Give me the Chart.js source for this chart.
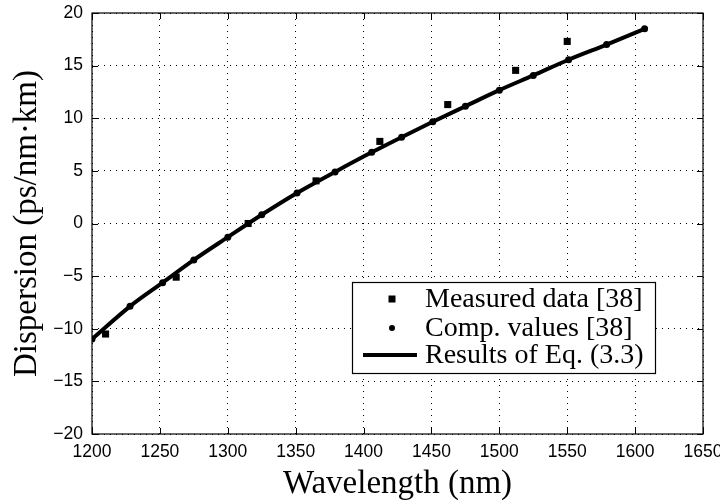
<!DOCTYPE html>
<html>
<head>
<meta charset="utf-8">
<script src="https://cdn.jsdelivr.net/npm/chart.js@4/dist/chart.umd.min.js"></script>
<style>
    html, body { margin: 0; padding: 0; background: #fff; }
    #wrap { width: 720px; height: 501px; position: relative; }
</style>
</head>
<body>
<div id="wrap"><canvas id="dispersion-chart" width="720" height="501"></canvas></div>
<script>
// measured points (squares)
const measuredWavelength = [1210, 1262, 1315, 1365, 1412, 1462, 1512, 1550];
const measuredDispersion = [-10.5, -5.1, 0.0, 4.05, 7.8, 11.3, 14.55, 17.3];

// computed values (dots)
const compWavelength = [1200, 1228, 1252, 1275, 1300, 1325, 1351, 1379, 1406, 1428, 1451, 1475, 1500, 1525, 1551, 1579, 1607];
const compDispersion = [-10.98, -7.87, -5.62, -3.46, -1.3, 0.83, 2.9, 4.9, 6.76, 8.2, 9.66, 11.14, 12.67, 14.07, 15.56, 17.0, 18.5];

// curve of Eq. (3.3)
const eqWavelength = [1200, 1228, 1252, 1275, 1300, 1325, 1351, 1379, 1406, 1428, 1451, 1475, 1500, 1525, 1551, 1579, 1607];
const eqDispersion = [-10.98, -7.87, -5.62, -3.46, -1.3, 0.83, 2.9, 4.9, 6.76, 8.2, 9.66, 11.14, 12.67, 14.07, 15.56, 17.0, 18.5];

const xTicks = [1200, 1250, 1300, 1350, 1400, 1450, 1500, 1550, 1600, 1650];
const yTicks = [-20, -15, -10, -5, 0, 5, 10, 15, 20];

const legendLabels = ["Measured data [38]", "Comp. values [38]", "Results of Eq. (3.3)"];

const SANS = "'Liberation Sans', Arial, sans-serif";
const SERIF = "'Liberation Serif', 'Times New Roman', serif";

function toPoints(xs, ys) {
    return xs.map((x, i) => ({ x: x, y: ys[i] }));
}

function minusSign(v) {
    return String(v).replace("-", "\u2212");
}

// border box, inward tick marks and the legend box inside the plot
const framePlugin = {
    id: "frame",
    afterDraw(chart) {
        const ctx = chart.ctx;
        const a = chart.chartArea;
        const xs = chart.scales.x;
        const ys = chart.scales.y;
        ctx.save();
        ctx.strokeStyle = "#000";
        ctx.lineWidth = 1.2;
        ctx.setLineDash([]);
        ctx.strokeRect(a.left, a.top, a.right - a.left, a.bottom - a.top);

        ctx.beginPath();
        xTicks.forEach(t => {
            const px = Math.round(xs.getPixelForValue(t)) + 0.5;
            ctx.moveTo(px, a.bottom); ctx.lineTo(px, a.bottom - 6);
            ctx.moveTo(px, a.top); ctx.lineTo(px, a.top + 6);
        });
        yTicks.forEach(t => {
            const py = Math.round(ys.getPixelForValue(t)) + 0.5;
            ctx.moveTo(a.left, py); ctx.lineTo(a.left + 6, py);
            ctx.moveTo(a.right, py); ctx.lineTo(a.right - 6, py);
        });
        ctx.lineWidth = 1;
        ctx.stroke();

        // legend
        const boxW = 303, boxH = 91;
        const bx = a.right - 48 - boxW;
        const by = a.bottom - 61 - boxH;
        ctx.fillStyle = "#fff";
        ctx.fillRect(bx, by, boxW, boxH);
        ctx.strokeStyle = "#000";
        ctx.lineWidth = 1.2;
        ctx.strokeRect(bx + 0.5, by + 0.5, boxW, boxH);

        const rows = [by + 17, by + 46, by + 73];
        const markX = bx + 40;
        ctx.fillStyle = "#000";
        ctx.fillRect(markX - 3.5, rows[0] - 3.5, 7, 7);
        ctx.beginPath();
        ctx.arc(markX, rows[1], 3, 0, Math.PI * 2);
        ctx.fill();
        ctx.beginPath();
        ctx.lineWidth = 4;
        ctx.moveTo(bx + 11, rows[2]);
        ctx.lineTo(bx + 65, rows[2]);
        ctx.stroke();

        ctx.font = "28px " + SERIF;
        ctx.textBaseline = "middle";
        ctx.textAlign = "left";
        legendLabels.forEach((label, i) => {
            ctx.fillText(label, bx + 73, rows[i] + 1);
        });
        ctx.restore();
    }
};

const ctx = document.getElementById("dispersion-chart").getContext("2d");

new Chart(ctx, {
    type: "scatter",
    data: {
        datasets: [
            {
                label: legendLabels[2],
                data: toPoints(eqWavelength, eqDispersion),
                showLine: true,
                borderColor: "#000",
                borderWidth: 4,
                pointRadius: 0,
                tension: 0.4,
                cubicInterpolationMode: "monotone",
                order: 3
            },
            {
                label: legendLabels[1],
                data: toPoints(compWavelength, compDispersion),
                pointStyle: "circle",
                pointRadius: 3.5,
                backgroundColor: "#000",
                borderColor: "#000",
                borderWidth: 0,
                order: 2
            },
            {
                label: legendLabels[0],
                data: toPoints(measuredWavelength, measuredDispersion),
                pointStyle: "rect",
                pointRadius: 5,
                backgroundColor: "#000",
                borderColor: "#000",
                borderWidth: 0,
                order: 1
            }
        ]
    },
    options: {
        responsive: false,
        animation: false,
        events: [],
        layout: { padding: { top: 13, right: 17, left: 0, bottom: 0 } },
        plugins: {
            legend: { display: false },
            tooltip: { enabled: false }
        },
        scales: {
            x: {
                type: "linear",
                min: 1200,
                max: 1650,
                afterFit(scale) {
                    scale.height = 67;
                    scale.paddingLeft = 0;
                    scale.paddingRight = 0;
                },
                afterBuildTicks(scale) { scale.ticks = xTicks.map(v => ({ value: v })); },
                border: { display: false, dash: [1, 5] },
                grid: {
                    color: "#000",
                    lineWidth: 1,
                    drawTicks: false,
                    tickLength: 0
                },
                ticks: {
                    color: "#000",
                    font: { family: SANS, size: 17.5 },
                    padding: 8,
                    maxRotation: 0,
                    callback: v => minusSign(v)
                },
                title: {
                    display: true,
                    text: "Wavelength (nm)",
                    color: "#000",
                    font: { family: SERIF, size: 33 },
                    padding: { top: 0, bottom: -3 }
                }
            },
            y: {
                type: "linear",
                min: -20,
                max: 20,
                afterFit(scale) {
                    scale.width = 92;
                    scale.paddingTop = 0;
                    scale.paddingBottom = 0;
                },
                afterBuildTicks(scale) { scale.ticks = yTicks.map(v => ({ value: v })); },
                border: { display: false, dash: [1, 5] },
                grid: {
                    color: "#000",
                    lineWidth: 1,
                    drawTicks: false,
                    tickLength: 0
                },
                ticks: {
                    color: "#000",
                    font: { family: SANS, size: 17.5 },
                    padding: 9,
                    callback: v => minusSign(v)
                },
                title: {
                    display: true,
                    text: "Dispersion (ps/nm\u00b7km)",
                    color: "#000",
                    font: { family: SERIF, size: 33 },
                    padding: { top: 8, bottom: 0 }
                }
            }
        }
    },
    plugins: [framePlugin]
});
</script>
</body>
</html>
